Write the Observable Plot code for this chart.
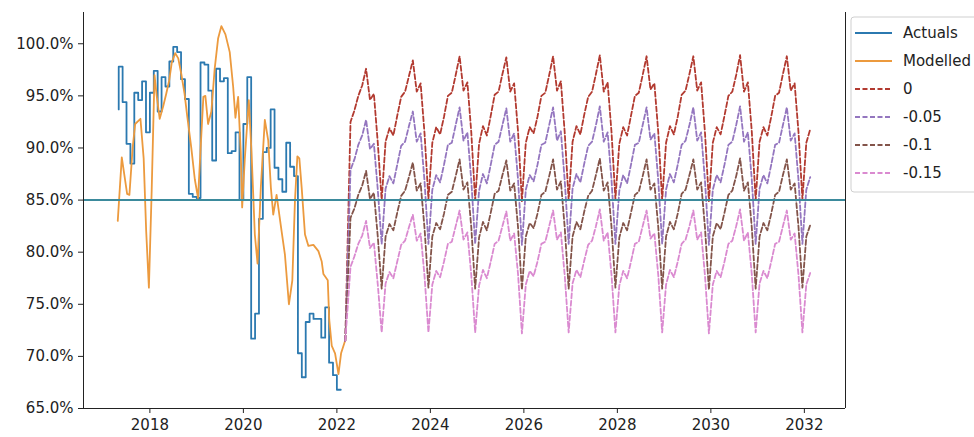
<!DOCTYPE html>
<html><head><meta charset="utf-8">
<script src="https://cdn.jsdelivr.net/npm/d3@7"></script>
<script src="https://cdn.jsdelivr.net/npm/@observablehq/plot@0.6"></script>
<style>body{margin:0;background:#fff} #chart svg{display:block}</style>
</head><body><div id="chart"></div>
<script>
// ---- data ----
const xTicks = [2018, 2020, 2022, 2024, 2026, 2028, 2030, 2032];
const yTicks = [65, 70, 75, 80, 85, 90, 95, 100];
const target = 85;

// Actuals: monthly values starting May 2017
const actualsStartYear = 2017 + 4 / 12;
const actuals = [
  93.7, 97.8, 94.4, 90.4, 88.5, 95.3, 94.6, 96.4, 91.5, 95.3, 97.4, 93.5,
  96.8, 95.9, 98.3, 99.7, 99.2, 96.6, 94.7, 85.6, 85.3, 85.2, 98.2, 98.0,
  95.5, 88.8, 97.6, 96.4, 96.7, 89.5, 89.7, 91.5, 85.0, 92.3, 96.8, 71.7,
  74.1, 83.2, 89.6, 90.0, 93.7, 88.1, 87.0, 85.8, 90.5, 88.2, 87.3, 70.3,
  68.0, 73.3, 74.1, 73.6, 73.6, 71.8, 74.7, 69.4, 68.2, 66.8
];

// Modelled: (decimal year, value)
const modelledYears = [
  2017.313, 2017.399, 2017.513, 2017.562, 2017.631, 2017.685, 2017.798, 2017.867, 2017.921, 2017.979,
  2018.039, 2018.099, 2018.146, 2018.210, 2018.285, 2018.350, 2018.414, 2018.468, 2018.543, 2018.607,
  2018.672, 2018.742, 2018.800, 2018.886, 2018.961, 2019.030, 2019.101, 2019.144, 2019.187, 2019.245,
  2019.315, 2019.386, 2019.459, 2019.530, 2019.616, 2019.708, 2019.781, 2019.830, 2019.888, 2019.944,
  2019.974, 2020.030, 2020.116, 2020.174, 2020.245, 2020.303, 2020.373, 2020.459, 2020.532, 2020.588,
  2020.639, 2020.710, 2020.818, 2020.888, 2020.974, 2021.047, 2021.103, 2021.155, 2021.197, 2021.247,
  2021.318, 2021.391, 2021.498, 2021.605, 2021.676, 2021.712, 2021.805, 2021.837, 2021.891, 2021.961,
  2022.034, 2022.090, 2022.176
];
const modelledValues = [
  83.0, 89.1, 85.6, 85.5, 90.0, 92.3, 92.8, 89.0, 82.0, 76.6,
  86.0, 97.0, 95.0, 92.8, 94.0, 95.2, 96.5, 98.2, 99.1, 98.6,
  97.1, 95.2, 93.0, 90.0, 87.0, 85.2, 91.3, 94.9, 95.0, 92.3,
  93.5, 97.6, 100.5, 101.7, 100.9, 99.2, 95.9, 92.9, 94.9, 89.6,
  84.3, 88.9, 94.6, 89.6, 81.7, 78.9, 86.2, 92.7, 90.7, 86.2,
  83.6, 85.5, 82.0, 79.8, 75.0, 77.3, 84.9, 89.2, 89.0, 86.2,
  81.7, 80.6, 80.7, 80.1, 79.1, 77.9, 77.3, 73.5, 71.0, 70.3,
  68.3, 70.3, 71.5
];

// Scenario forecasts: start from the last modelled point, then mid-month values from Apr 2022 to Feb 2032
const forecastAnchorYear = 2022.18;
const forecastAnchorValue = 71.5;
const forecastStartYear = 2022 + 3.5 / 12;
const scenario0 = [
  92.5, 93.6, 95.0, 96.0, 97.6, 94.6, 95.2, 90.5, 85.0,
  90.6, 91.9, 91.2, 93.1, 94.9, 95.4, 96.9, 98.4, 95.4, 96.2, 91.4, 85.1,
  90.5, 92.0, 91.3, 93.0, 95.0, 95.3, 97.0, 98.8, 95.5, 96.3, 91.5, 85.0,
  90.4, 92.1, 91.2, 93.1, 95.1, 95.4, 97.1, 98.7, 95.4, 96.2, 91.6, 84.9,
  90.5, 92.0, 91.4, 93.0, 95.0, 95.3, 97.0, 98.8, 95.5, 96.4, 91.4, 85.0,
  90.6, 92.1, 91.3, 93.2, 94.9, 95.4, 97.1, 98.9, 95.4, 96.3, 91.5, 85.1,
  90.4, 92.0, 91.2, 93.1, 95.0, 95.3, 97.0, 98.8, 95.6, 96.2, 91.5, 85.0,
  90.5, 92.1, 91.3, 93.0, 95.1, 95.5, 97.1, 98.8, 95.5, 96.3, 91.4, 84.9,
  90.5, 92.0, 91.3, 93.1, 95.0, 95.4, 97.0, 98.9, 95.4, 96.3, 91.6, 85.0,
  90.6, 92.0, 91.2, 93.0, 95.0, 95.3, 97.1, 98.8, 95.5, 96.2, 91.5, 85.1,
  90.5, 91.8
];
const scenario005 = [
  87.9, 88.9, 90.3, 91.2, 92.7, 89.9, 90.4, 86.0, 80.8,
  86.1, 87.3, 86.6, 88.4, 90.2, 90.6, 92.1, 93.5, 90.6, 91.4, 86.8, 80.8,
  86.0, 87.4, 86.7, 88.4, 90.3, 90.5, 92.2, 93.9, 90.7, 91.5, 86.9, 80.8,
  85.9, 87.5, 86.6, 88.4, 90.3, 90.6, 92.2, 93.8, 90.6, 91.4, 87.0, 80.7,
  86.0, 87.4, 86.8, 88.4, 90.3, 90.5, 92.2, 93.9, 90.7, 91.6, 86.8, 80.8,
  86.1, 87.5, 86.7, 88.5, 90.2, 90.6, 92.2, 94.0, 90.6, 91.5, 86.9, 80.8,
  85.9, 87.4, 86.6, 88.4, 90.3, 90.5, 92.2, 93.9, 90.8, 91.4, 86.9, 80.8,
  86.0, 87.5, 86.7, 88.4, 90.3, 90.7, 92.2, 93.9, 90.7, 91.5, 86.8, 80.7,
  86.0, 87.4, 86.7, 88.4, 90.3, 90.6, 92.2, 94.0, 90.6, 91.5, 87.0, 80.8,
  86.1, 87.4, 86.6, 88.4, 90.3, 90.5, 92.2, 93.9, 90.7, 91.4, 86.9, 80.8,
  86.0, 87.2
];
const scenario010 = [
  83.3, 84.2, 85.5, 86.4, 87.8, 85.1, 85.7, 81.5, 76.5,
  81.5, 82.7, 82.1, 83.8, 85.4, 85.9, 87.2, 88.6, 85.9, 86.6, 82.3, 76.6,
  81.5, 82.8, 82.2, 83.7, 85.5, 85.8, 87.3, 88.9, 86.0, 86.7, 82.4, 76.5,
  81.4, 82.9, 82.1, 83.8, 85.6, 85.9, 87.4, 88.8, 85.9, 86.6, 82.4, 76.4,
  81.5, 82.8, 82.3, 83.7, 85.5, 85.8, 87.3, 88.9, 86.0, 86.8, 82.3, 76.5,
  81.5, 82.9, 82.2, 83.9, 85.4, 85.9, 87.4, 89.0, 85.9, 86.7, 82.4, 76.6,
  81.4, 82.8, 82.1, 83.8, 85.5, 85.8, 87.3, 88.9, 86.0, 86.6, 82.4, 76.5,
  81.5, 82.9, 82.2, 83.7, 85.6, 86.0, 87.4, 88.9, 86.0, 86.7, 82.3, 76.4,
  81.5, 82.8, 82.2, 83.8, 85.5, 85.9, 87.3, 89.0, 85.9, 86.7, 82.4, 76.5,
  81.5, 82.8, 82.1, 83.7, 85.5, 85.8, 87.4, 88.9, 86.0, 86.6, 82.4, 76.6,
  81.5, 82.6
];
const scenario015 = [
  78.6, 79.6, 80.8, 81.6, 83.0, 80.4, 80.9, 76.9, 72.3,
  77.0, 78.1, 77.5, 79.1, 80.7, 81.1, 82.4, 83.6, 81.1, 81.8, 77.7, 72.3,
  76.9, 78.2, 77.6, 79.1, 80.8, 81.0, 82.5, 84.0, 81.2, 81.9, 77.8, 72.3,
  76.8, 78.3, 77.5, 79.1, 80.8, 81.1, 82.5, 83.9, 81.1, 81.8, 77.9, 72.2,
  76.9, 78.2, 77.7, 79.1, 80.8, 81.0, 82.5, 84.0, 81.2, 81.9, 77.7, 72.3,
  77.0, 78.3, 77.6, 79.2, 80.7, 81.1, 82.5, 84.1, 81.1, 81.9, 77.8, 72.3,
  76.8, 78.2, 77.5, 79.1, 80.8, 81.0, 82.5, 84.0, 81.3, 81.8, 77.8, 72.3,
  76.9, 78.3, 77.6, 79.1, 80.8, 81.2, 82.5, 84.0, 81.2, 81.9, 77.7, 72.2,
  76.9, 78.2, 77.6, 79.1, 80.8, 81.1, 82.5, 84.1, 81.1, 81.9, 77.9, 72.3,
  77.0, 78.2, 77.5, 79.1, 80.8, 81.0, 82.5, 84.0, 81.2, 81.8, 77.8, 72.3,
  76.9, 78.0
];

const seriesNames = ["Actuals", "Modelled", "0", "-0.05", "-0.1", "-0.15"];
const seriesColors = ["#2b79b0", "#ec9a3e", "#b23a30", "#9476bf", "#83544a", "#da8ad0"];
const targetColor = "#3b8a9c";

// ---- build tables ----
const actualRows = actuals.map((v, i) => ({x: actualsStartYear + i / 12, y: v}));
const modelRows = modelledYears.map((t, i) => ({x: t, y: modelledValues[i]}));
const scenarios = [scenario0, scenario005, scenario010, scenario015].map((vals, s) => ({
  name: seriesNames[s + 2],
  color: seriesColors[s + 2],
  rows: [{x: forecastAnchorYear, y: forecastAnchorValue}].concat(
    vals.map((v, i) => ({x: forecastStartYear + i / 12, y: v})))
}));

const xDomain = [2016.58, 2032.88];
const yDomain = [65, 103];

const chart = Plot.plot({
  width: 974, height: 437,
  marginLeft: 83, marginRight: 129, marginTop: 12, marginBottom: 29,
  style: {fontFamily: "DejaVu Sans", fontSize: "15px", color: "#222", background: "#fff", overflow: "visible"},
  x: {domain: xDomain},
  y: {domain: yDomain},
  marks: [
    Plot.line(actualRows, {x: "x", y: "y", curve: "step-before", stroke: seriesColors[0], strokeWidth: 1.8}),
    Plot.line(modelRows, {x: "x", y: "y", curve: "linear", stroke: seriesColors[1], strokeWidth: 1.8}),
    ...scenarios.map(s => Plot.line(s.rows, {x: "x", y: "y", stroke: s.color, strokeWidth: 1.8, strokeDasharray: "5,2.5"})),
    Plot.ruleY([target], {stroke: targetColor, strokeWidth: 2}),
    Plot.ruleX([xDomain[0], xDomain[1]], {stroke: "#222", strokeWidth: 1}),
    Plot.ruleY([yDomain[0]], {stroke: "#222", strokeWidth: 1}),
    Plot.axisX({ticks: xTicks, tickFormat: d => String(d), tickSize: 5, tickPadding: 6, label: null}),
    Plot.axisY({ticks: yTicks, tickFormat: d => d.toFixed(1) + "%", tickSize: 5, tickPadding: 5, label: null})
  ]
});
document.getElementById("chart").appendChild(chart);

// ---- legend (right of the axes, inside the figure) ----
const svg = d3.select(chart);
const lg = svg.append("g").attr("font-family", "DejaVu Sans").attr("font-size", 15).attr("text-anchor", "start");
lg.append("rect").attr("x", 851).attr("y", 17).attr("width", 140).attr("height", 175)
  .attr("rx", 3).attr("fill", "#fff").attr("stroke", "#cfcfcf");
seriesNames.forEach((name, i) => {
  const y = 33 + 28 * i;
  lg.append("line").attr("x1", 855).attr("x2", 892).attr("y1", y).attr("y2", y)
    .attr("stroke", seriesColors[i]).attr("stroke-width", 1.8)
    .attr("stroke-dasharray", i < 2 ? null : "5,2.5");
  lg.append("text").attr("x", 903).attr("y", y).attr("dy", "0.35em")
    .attr("text-anchor", "start").attr("fill", "#222").text(name);
});
</script>
</body></html>
